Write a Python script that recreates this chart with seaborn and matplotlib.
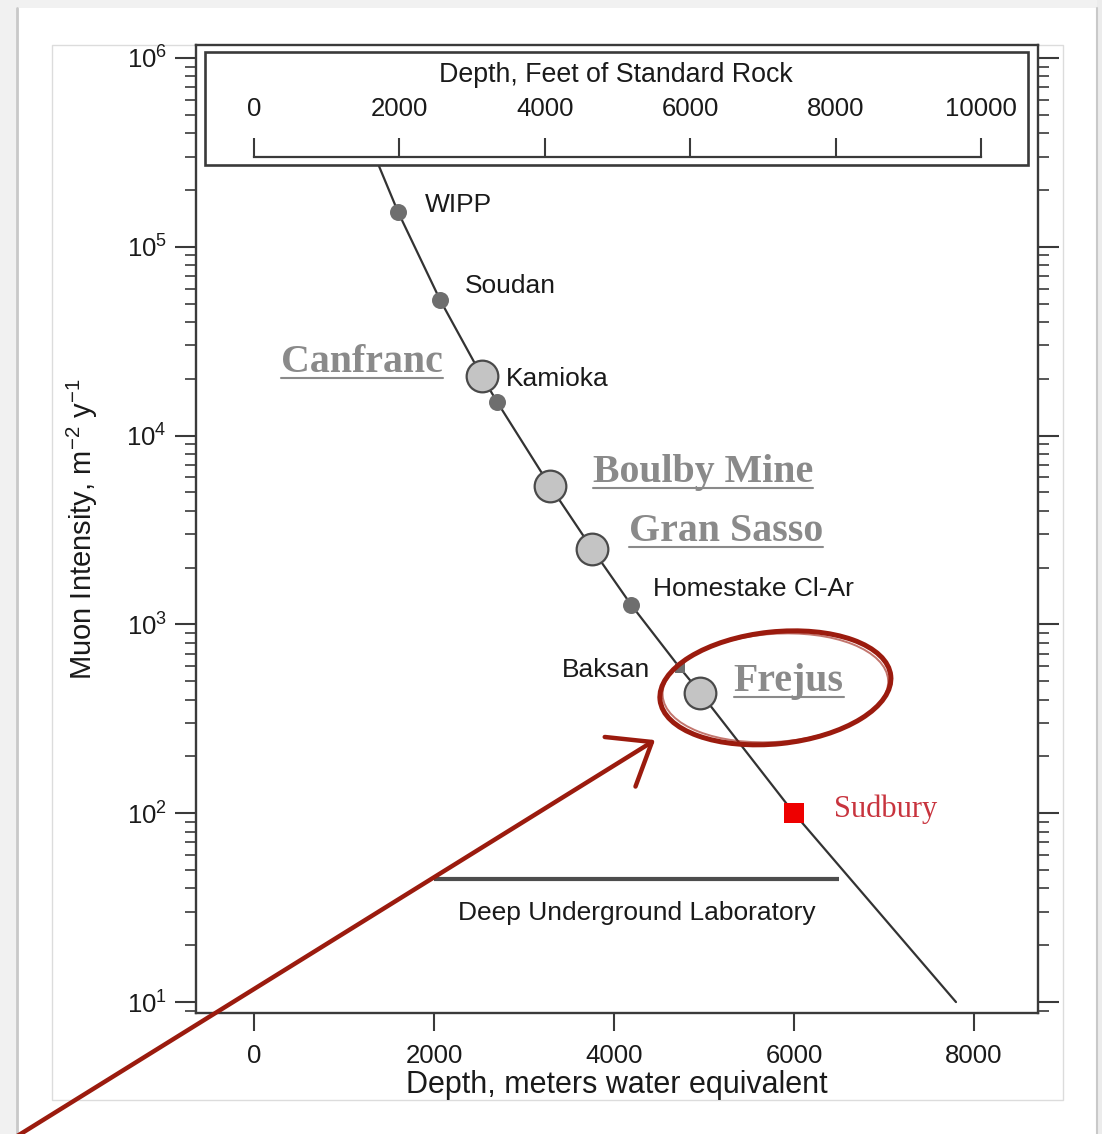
import numpy as np
import pandas as pd
import seaborn as sns
import matplotlib.pyplot as plt
from matplotlib.patches import Ellipse, Rectangle
from matplotlib.lines import Line2D
from matplotlib.transforms import IdentityTransform

# depth in metres water equivalent, muon intensity in m^-2 y^-1
sites = ["WIPP", "Soudan", "Canfranc", "Kamioka", "Boulby Mine", "Gran Sasso",
         "Homestake Cl-Ar", "Baksan", "Frejus", "Sudbury"]
site_depth = [1600, 2070, 2530, 2700, 3290, 3760, 4190, 4730, 4960, 6000]
site_flux = [1.53e5, 5.2e4, 2.07e4, 1.51e4, 5.4e3, 2.5e3, 1.27e3, 590, 434, 100]
site_kind = ["us", "us", "eu", "us", "eu", "eu", "us", "baksan", "eu", "sudbury"]

curve_depth = [1200, 1600, 2070, 2530, 2700, 3290, 3760, 4190, 4730, 4960, 6000, 7800]
curve_flux = [4.4e5, 1.53e5, 5.2e4, 2.07e4, 1.51e4, 5.4e3, 2.5e3, 1.27e3, 590, 434, 100, 10]

lab_band = [2000, 6500]
lab_band_flux = 44.7

x_ticks = [0, 2000, 4000, 6000, 8000]
feet_ticks = [0, 2000, 4000, 6000, 8000, 10000]
FT_TO_MWE = 0.3048 * 2.65  # standard rock, 2.65 g/cm3

RED = "#9b1b0e"
GRAY_TXT = "#8a8a8a"

sns.set_theme(style="ticks")
plt.rcParams["font.family"] = ["Liberation Sans", "DejaVu Sans"]
plt.rcParams["mathtext.default"] = "regular"
plt.rcParams["axes.edgecolor"] = "#3a3a3a"

df = pd.DataFrame({"site": sites, "depth": site_depth, "flux": site_flux, "kind": site_kind})

styles = {
    "us": dict(marker="o", s=150, color="#6e6e6e", edgecolor="#6e6e6e", linewidth=0),
    "eu": dict(marker="o", s=520, color="#c4c4c4", edgecolor="#4a4a4a", linewidth=1.6),
    "baksan": dict(marker="s", s=60, color="#6e6e6e", linewidth=0),
    "sudbury": dict(marker="s", s=220, color="#ee0000", linewidth=0),
}

# label placement: offset in points, alignment
label_pos = {
    "WIPP": ((19.5, 0), "left"),
    "Soudan": ((18, 5), "left"),
    "Canfranc": ((-28, 3), "right"),
    "Kamioka": ((6.5, 11.5), "left"),
    "Boulby Mine": ((31, 3), "left"),
    "Gran Sasso": ((26, 6), "left"),
    "Homestake Cl-Ar": ((16, 6), "left"),
    "Baksan": ((-21.5, -6.5), "right"),
    "Frejus": ((24, 1), "left"),
    "Sudbury": ((29, -3), "left"),
}

fig = plt.figure(figsize=(11.02, 11.34), dpi=100)
fig.patch.set_facecolor("white")
ax = fig.add_axes([0.1779, 0.1067, 0.764, 0.8536])

sns.lineplot(x=curve_depth, y=curve_flux, ax=ax, color="#333333", lw=1.6,
             sort=False, estimator=None, zorder=2)
for kind, sub in df.groupby("kind"):
    sns.scatterplot(data=sub, x="depth", y="flux", ax=ax, zorder=3, legend=False, **styles[kind])

ax.set_yscale("log")
ax.set_xlim(-644, 8711)
ax.set_ylim(8.75, 1.17e6)
ax.set_xticks(x_ticks)

serif_texts = []
for name, d, f, kind in zip(sites, site_depth, site_flux, site_kind):
    off, ha = label_pos[name]
    if kind == "eu":
        t = ax.annotate(name, (d, f), xytext=off, textcoords="offset points", ha=ha,
                        va="baseline", fontsize=28.7, fontweight="bold",
                        family="Liberation Serif", color=GRAY_TXT, zorder=4)
        serif_texts.append(t)
    elif kind == "sudbury":
        ax.annotate(name, (d, f), xytext=off, textcoords="offset points", ha=ha,
                    va="baseline", fontsize=22, family="Liberation Serif",
                    color="#c8343e", zorder=4)
    else:
        ax.annotate(name, (d, f), xytext=off, textcoords="offset points", ha=ha,
                    va="baseline", fontsize=19, color="#1a1a1a", zorder=4)

ax.plot(lab_band, [lab_band_flux] * 2, color="#4d4d4d", lw=3, solid_capstyle="butt")
ax.annotate("Deep Underground Laboratory", (np.mean(lab_band), lab_band_flux),
            xytext=(0, -29), textcoords="offset points", ha="center", va="baseline",
            fontsize=19, color="#1a1a1a")

for s in ax.spines.values():
    s.set_linewidth(1.7)
    s.set_color("#3a3a3a")
ax.tick_params(axis="x", which="major", direction="out", length=13, width=1.5,
               labelsize=18.5, pad=9, colors="#3a3a3a", labelcolor="#1a1a1a")
ax.tick_params(axis="x", which="minor", bottom=False, top=False)
ax.tick_params(axis="y", which="major", direction="out", length=15, width=1.5,
               labelsize=18.5, left=True, right=True, pad=6,
               colors="#3a3a3a", labelcolor="#1a1a1a")
ax.tick_params(axis="y", which="minor", direction="out", length=8, width=1.2,
               left=True, right=True, colors="#3a3a3a")
ax.set_xlabel("Depth, meters water equivalent", fontsize=22, labelpad=2, color="#1a1a1a")
ax.set_ylabel("Muon Intensity, m$^{-2}$ y$^{-1}$", fontsize=21, labelpad=19, color="#1a1a1a")

# feet of standard rock scale in a boxed inset
box = [0.0107, 0.876, 0.977, 0.1168]
ins = ax.inset_axes(box)
x0, x1 = ax.get_xlim()
ins.set_xlim((x0 + box[0] * (x1 - x0)) / FT_TO_MWE,
             (x0 + (box[0] + box[2]) * (x1 - x0)) / FT_TO_MWE)
ins.set_ylim(0, 1)
ins.set_yticks([])
ins.patch.set_facecolor("white")
ins.patch.set_edgecolor("#3a3a3a")
ins.patch.set_linewidth(1.9)
for side in ["left", "right", "bottom"]:
    ins.spines[side].set_visible(False)
ins.spines["top"].set_position(("axes", 0.07))
ins.spines["top"].set_bounds(feet_ticks[0], feet_ticks[-1])
ins.spines["top"].set_linewidth(1.6)
ins.xaxis.set_ticks_position("top")
ins.set_xticks(feet_ticks)
ins.minorticks_off()
ins.tick_params(axis="x", direction="out", length=14, width=1.5, labelsize=18.5,
                pad=12, colors="#3a3a3a", labelcolor="#1a1a1a")
ins.text(0.5, 0.8, "Depth, Feet of Standard Rock", transform=ins.transAxes,
         ha="center", va="center", fontsize=19.3, color="#1a1a1a")

# page frame decoration
W, H = 1102, 1134
fig.add_artist(Rectangle((0, 1 - 8 / H), 1, 8 / H, transform=fig.transFigure,
                         fc="#f1f1f1", ec="none", zorder=-2))
fig.add_artist(Rectangle((0, 0), 17 / W, 1, transform=fig.transFigure,
                         fc="#f1f1f1", ec="none", zorder=-2))
fig.add_artist(Rectangle((1097 / W, 0), 5 / W, 1, transform=fig.transFigure,
                         fc="#ececec", ec="none", zorder=-2))
fig.add_artist(Line2D([17 / W] * 2, [0, 1 - 8 / H], transform=fig.transFigure,
                      color="#c9c9c9", lw=2, zorder=-1))
fig.add_artist(Line2D([1097 / W] * 2, [0, 1 - 8 / H], transform=fig.transFigure,
                      color="#c9c9c9", lw=1.5, zorder=-1))
fig.add_artist(Rectangle((52 / W, 1 - 1100 / H), (1063 - 52) / W, (1100 - 45) / H,
                         transform=fig.transFigure, fill=False, ec="#dcdcdc",
                         lw=1, zorder=-1))

# red hand-drawn highlight around Frejus
fx, fy = ax.transData.transform((site_depth[8], site_flux[8]))
for w, h, ang, lw, a in [(232, 112, 6, 3.6, 1.0), (226, 108, 4, 1.4, 0.6)]:
    fig.add_artist(Ellipse((fx + 75, fy + 5), w, h, angle=ang, transform=IdentityTransform(),
                           fill=False, ec=RED, lw=lw, alpha=a, zorder=10))
ax.annotate("", xy=(4456, 244), xycoords="data", xytext=(0.012, -0.004),
            textcoords="figure fraction",
            arrowprops=dict(arrowstyle="->,head_length=1.35,head_width=1.05",
                            mutation_scale=20, color=RED, lw=3.2,
                            shrinkA=0, shrinkB=0),
            annotation_clip=False, zorder=10)

# underline the highlighted lab names
fig.canvas.draw()
for t in serif_texts:
    bb = t.get_window_extent()
    fig.add_artist(Line2D([bb.x0, bb.x1], [bb.y0 + 3, bb.y0 + 3],
                          transform=IdentityTransform(), color=GRAY_TXT, lw=1.5, zorder=5))

fig.savefig("out.png", dpi=100)
